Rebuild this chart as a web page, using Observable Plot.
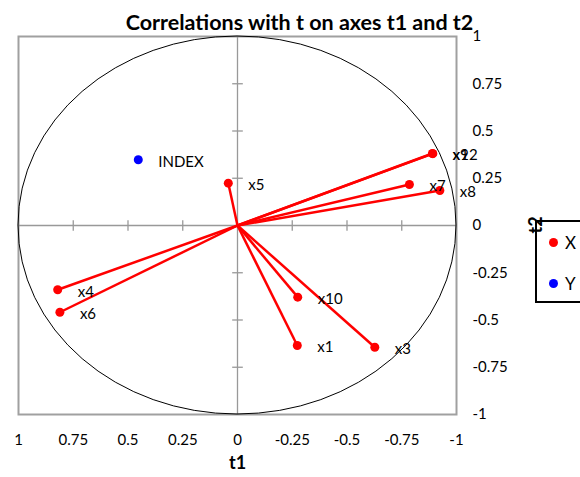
<!DOCTYPE html>
<html>
<head>
<meta charset="utf-8">
<script src="https://cdn.jsdelivr.net/npm/d3@7"></script>
<script src="https://cdn.jsdelivr.net/npm/@observablehq/plot@0.6"></script>
<style>
  html, body { margin: 0; padding: 0; background: #fff; overflow: hidden; }
  #chart { position: relative; width: 580px; height: 477px; font-family: Lato, "Open Sans", sans-serif; }
  #legend { position: absolute; left: 535px; top: 220px; width: 70px; height: 83px; border: 2px solid #000; box-sizing: border-box; background: #fff; }
  .li { position: absolute; left: 12px; font-size: 17px; display: flex; align-items: center; }
  .sw { width: 9px; height: 9px; border-radius: 50%; margin-right: 7px; }
</style>
</head>
<body>
<div id="chart"></div>
<script>
const title = "Correlations with t on axes t1 and t2";
const names  = ["x1", "x3", "x4", "x5", "x6", "x7", "x8", "x9", "x10", "x12", "INDEX"];
const t1Vals = [-0.273, -0.627, 0.821, 0.042, 0.811, -0.785, -0.924, -0.890, -0.275, -0.892, 0.453];
const t2Vals = [-0.635, -0.644, -0.340, 0.224, -0.459, 0.217, 0.185, 0.381, -0.379, 0.380, 0.348];
const groups = ["X", "X", "X", "X", "X", "X", "X", "X", "X", "X", "Y"];
const seriesNames = ["X", "Y"];
const seriesColors = ["#ff0000", "#0000ff"];
const tickValues = [-1, -0.75, -0.5, -0.25, 0, 0.25, 0.5, 0.75, 1];
const innerTicks = [-0.75, -0.5, -0.25, 0.25, 0.5, 0.75];

const pts = names.map((n, i) => ({name: n, t1: t1Vals[i], t2: t2Vals[i], group: groups[i]}));
const xPts = pts.filter(d => d.group === "X");
const colorOf = g => seriesColors[seriesNames.indexOf(g)];

const vSym = {draw(ctx, size) { const h = Math.sqrt(size) / 2; ctx.moveTo(0, -h); ctx.lineTo(0, h); }};
const hSym = {draw(ctx, size) { const h = Math.sqrt(size) / 2; ctx.moveTo(-h, 0); ctx.lineTo(h, 0); }};

const circleMark = (index, scales) => {
  const x = scales.x, y = scales.y;
  const cx = x(0), cy = y(0);
  return d3.create("svg:ellipse")
    .attr("cx", cx).attr("cy", cy)
    .attr("rx", Math.abs(x(1) - cx)).attr("ry", Math.abs(y(1) - cy))
    .attr("fill", "none").attr("stroke", "#000").attr("stroke-width", 1)
    .node();
};

const plot = Plot.plot({
  width: 580,
  height: 477,
  marginLeft: 18,
  marginRight: 124,
  marginTop: 36,
  marginBottom: 63,
  style: {fontFamily: "Lato, 'Open Sans', sans-serif", fontSize: "15px", color: "#000", background: "#fff", overflow: "visible"},
  x: {domain: [1, -1]},
  y: {domain: [-1, 1]},
  marks: [
    Plot.frame({stroke: "#a0a0a0", strokeWidth: 2}),
    Plot.ruleX([0], {stroke: "#999", strokeWidth: 1.3}),
    Plot.ruleY([0], {stroke: "#999", strokeWidth: 1.3}),
    Plot.dot(innerTicks, {x: d => d, y: 0, symbol: vSym, r: 6, stroke: "#999", strokeWidth: 1.3, fill: "none"}),
    Plot.dot(innerTicks, {x: 0, y: d => d, symbol: hSym, r: 6, stroke: "#999", strokeWidth: 1.3, fill: "none"}),
    circleMark,
    Plot.link(xPts, {x1: 0, y1: 0, x2: "t1", y2: "t2", stroke: "#ff0000", strokeWidth: 2.5}),
    Plot.dot(pts, {x: "t1", y: "t2", r: 4.5, fill: d => colorOf(d.group), stroke: "none"}),
    Plot.text(pts, {x: "t1", y: "t2", text: "name", textAnchor: "start", dx: 20, dy: 2, fontSize: 15, fill: "#000"}),
    Plot.axisX({anchor: "bottom", ticks: tickValues, tickSize: 0, tickPadding: 20, tickFormat: d => String(d), label: null, fontSize: 15}),
    Plot.axisY({anchor: "right", ticks: tickValues, tickSize: 0, tickPadding: 16, tickFormat: d => String(d), label: null, fontSize: 15}),
    Plot.text(["t1"], {frameAnchor: "bottom", dy: 54, text: d => d, fontWeight: "bold", fontSize: 18}),
    Plot.text([title], {frameAnchor: "top", dx: 62, dy: -22, text: d => d, fontWeight: "bold", fontSize: 21.5})
  ]
});
const chart = document.getElementById("chart");
chart.appendChild(plot);

const legend = document.createElement("div");
legend.id = "legend";
seriesNames.forEach((s, i) => {
  const item = document.createElement("div");
  item.className = "li";
  item.style.top = (i === 0 ? 10 : 51) + "px";
  const sw = document.createElement("span");
  sw.className = "sw";
  sw.style.background = seriesColors[i];
  const lab = document.createElement("span");
  lab.textContent = s;
  item.appendChild(sw);
  item.appendChild(lab);
  legend.appendChild(item);
});
chart.appendChild(legend);

// y-axis title "t2", drawn over the legend border as in the reference
const t2 = document.createElementNS("http://www.w3.org/2000/svg", "svg");
t2.setAttribute("width", "20"); t2.setAttribute("height", "30");
t2.style.position = "absolute"; t2.style.left = "525px"; t2.style.top = "210px"; t2.style.overflow = "visible";
const tt = document.createElementNS("http://www.w3.org/2000/svg", "text");
tt.setAttribute("transform", "translate(10,15) rotate(-90)");
tt.setAttribute("text-anchor", "middle"); tt.setAttribute("dominant-baseline", "central");
tt.setAttribute("font-weight", "bold"); tt.setAttribute("font-size", "18");
tt.setAttribute("font-family", "Lato, 'Open Sans', sans-serif");
tt.textContent = "t2";
t2.appendChild(tt);
chart.appendChild(t2);
</script>
</body>
</html>
